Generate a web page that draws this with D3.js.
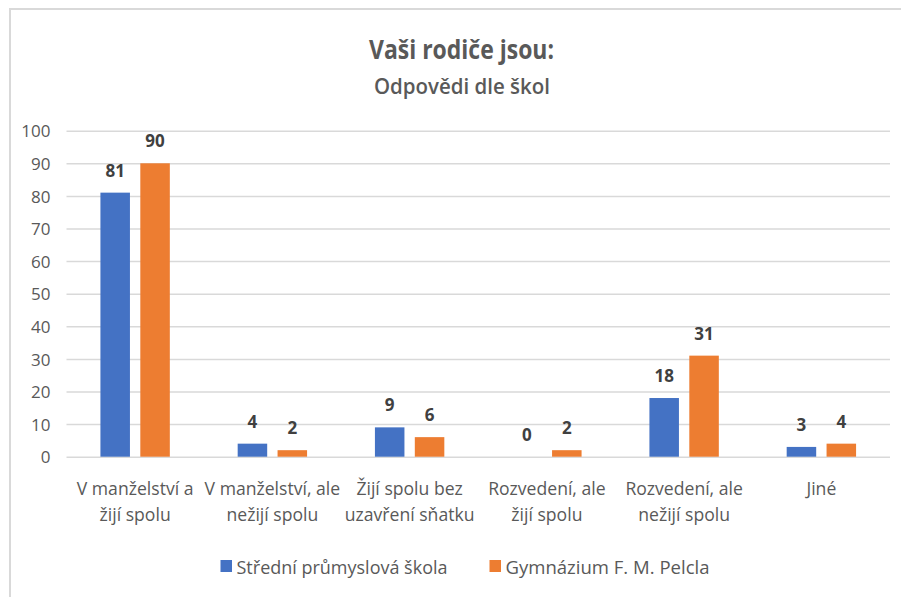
<!DOCTYPE html>
<html><head><meta charset="utf-8">
<script src="https://cdn.jsdelivr.net/npm/d3@7"></script>
<style>html,body{margin:0;padding:0;background:#fff}svg{display:block}</style>
</head><body>
<svg id="chart" width="901" height="597"></svg>
<script>
const categories = [
  ["V manželství a", "žijí spolu"],
  ["V manželství, ale", "nežijí spolu"],
  ["Žijí spolu bez", "uzavření sňatku"],
  ["Rozvedení, ale", "žijí spolu"],
  ["Rozvedení, ale", "nežijí spolu"],
  ["Jiné"]
];
const seriesNames = ["Střední průmyslová škola", "Gymnázium F. M. Pelcla"];
const spsValues = [81, 4, 9, 0, 18, 3];
const gymValues = [90, 2, 6, 2, 31, 4];
const yTicks = [0, 10, 20, 30, 40, 50, 60, 70, 80, 90, 100];
const titleText = "Vaši rodiče jsou:";
const subtitleText = "Odpovědi dle škol";
const colors = ["#4472C4", "#ED7D31"];

(function () {
const font = "'Open Sans', 'DejaVu Sans', sans-serif";
const svg = d3.select("#chart");
svg.append("rect").attr("width", 901).attr("height", 597).attr("fill", "#fff");
// frame
svg.append("line").attr("x1", 10).attr("x2", 10).attr("y1", 9).attr("y2", 597).attr("stroke", "#d9d9d9").attr("stroke-width", 2);
svg.append("line").attr("x1", 9).attr("x2", 901).attr("y1", 9).attr("y2", 9).attr("stroke", "#d9d9d9").attr("stroke-width", 2);

const pLeft = 66.5, pRight = 890, pTop = 130.7, pBottom = 456.7;
const x0 = d3.scaleBand().domain(d3.range(categories.length)).range([pLeft, pRight]).paddingInner(0).paddingOuter(0);
const x1 = d3.scaleBand().domain([0, 1]).range([x0.bandwidth()/2 - 34.7, x0.bandwidth()/2 + 34.7]).paddingInner(0.26);
const y = d3.scaleLinear().domain([0, 100]).range([pBottom, pTop]);

// grid
const yAxis = d3.axisLeft(y).tickValues(yTicks).tickSize(-(pRight - pLeft)).tickPadding(16);
const ga = svg.append("g").attr("transform", `translate(${pLeft},0)`).call(yAxis);
ga.select(".domain").remove();
ga.selectAll(".tick line").attr("stroke", "#d9d9d9").attr("stroke-width", 1.5);
ga.selectAll(".tick text").attr("fill", "#595959").style("font-family", font).style("font-size", "17px").attr("dy", "0.36em");

const series = [spsValues, gymValues];
series.forEach((vals, si) => {
  const g = svg.append("g");
  g.selectAll("rect").data(vals).join("rect")
    .attr("x", (d, i) => x0(i) + x1(si))
    .attr("width", x1.bandwidth())
    .attr("y", d => y(d))
    .attr("height", d => y(0) - y(d))
    .attr("fill", colors[si]);
  g.selectAll("text").data(vals).join("text")
    .attr("x", (d, i) => x0(i) + x1(si) + x1.bandwidth()/2)
    .attr("y", d => y(d) - 16)
    .attr("text-anchor", "middle")
    .attr("fill", "#404040")
    .style("font-family", font).style("font-size", "17px").style("font-weight", "bold")
    .text(d => d);
});

// category labels
categories.forEach((lines, i) => {
  const t = svg.append("text").attr("text-anchor", "middle").attr("fill", "#595959")
    .style("font-family", font).style("font-size", "17.6px");
  lines.forEach((ln, j) => {
    t.append("tspan").attr("x", x0(i) + x0.bandwidth()/2).attr("y", 495 + j * 25.5).text(ln);
  });
});

// title
svg.append("text").attr("x", 461.5).attr("y", 59).attr("text-anchor", "middle")
  .attr("fill", "#595959").style("font-family", font).style("font-size", "27px").style("font-weight", "bold")
  .attr("textLength", 185).attr("lengthAdjust", "spacingAndGlyphs")
  .text(titleText);
svg.append("text").attr("x", 462).attr("y", 93.5).attr("text-anchor", "middle")
  .attr("fill", "#595959").style("font-family", font).style("font-size", "21px").style("font-weight", "600")
  .attr("textLength", 176).attr("lengthAdjust", "spacingAndGlyphs")
  .text(subtitleText);

// legend
const legendX = [220.5, 489.5];
const legendW = [211, 204];
seriesNames.forEach((name, i) => {
  svg.append("rect").attr("x", legendX[i]).attr("y", 560).attr("width", 11.5).attr("height", 12).attr("fill", colors[i]);
  svg.append("text").attr("x", legendX[i] + 16).attr("y", 573.5).attr("fill", "#595959")
    .style("font-family", font).style("font-size", "18px")
    .attr("textLength", legendW[i]).attr("lengthAdjust", "spacingAndGlyphs").text(name);
});
})();
</script>
</body></html>
